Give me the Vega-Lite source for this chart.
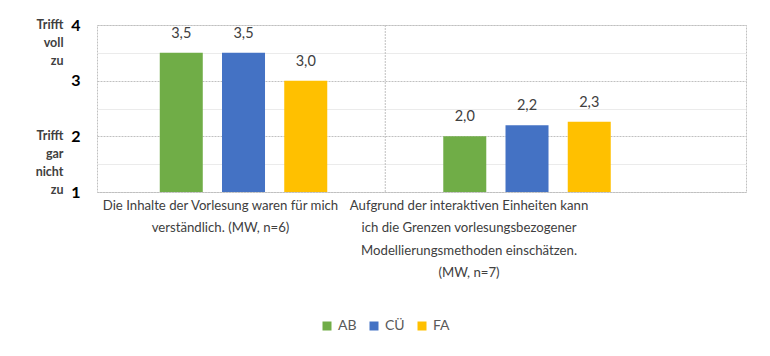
{
  "$schema": "https://vega.github.io/schema/vega-lite/v6.json",
  "width": 649,
  "height": 167,
  "padding": {"left": 35, "top": 17, "right": 5, "bottom": 5},
  "background": "white",
  "config": {
    "view": {"stroke": "#c0c0c0", "strokeDash": [2, 1]},
    "locale": {"number": {"decimal": ",", "thousands": ".", "grouping": [3], "currency": ["", " €"]}},
    "font": "Lato"
  },
  "data": {
    "values": [
      {"frage": "Die Inhalte der Vorlesung waren für mich verständlich. (MW, n=6)", "gruppe": "AB", "mw": 3.5},
      {"frage": "Die Inhalte der Vorlesung waren für mich verständlich. (MW, n=6)", "gruppe": "CÜ", "mw": 3.5},
      {"frage": "Die Inhalte der Vorlesung waren für mich verständlich. (MW, n=6)", "gruppe": "FA", "mw": 3.0},
      {"frage": "Aufgrund der interaktiven Einheiten kann ich die Grenzen vorlesungsbezogener Modellierungsmethoden einschätzen. (MW, n=7)", "gruppe": "AB", "mw": 2.0},
      {"frage": "Aufgrund der interaktiven Einheiten kann ich die Grenzen vorlesungsbezogener Modellierungsmethoden einschätzen. (MW, n=7)", "gruppe": "CÜ", "mw": 2.2},
      {"frage": "Aufgrund der interaktiven Einheiten kann ich die Grenzen vorlesungsbezogener Modellierungsmethoden einschätzen. (MW, n=7)", "gruppe": "FA", "mw": 2.26}
    ]
  },
  "encoding": {
    "x": {
      "field": "frage",
      "type": "nominal",
      "sort": null,
      "scale": {"paddingInner": 0, "paddingOuter": 0.1446, "align": 0.058},
      "axis": {
        "title": null,
        "domain": false,
        "ticks": false,
        "grid": false,
        "labelAngle": 0,
        "labelLimit": 500,
        "labelFont": "Lato",
        "labelFontSize": 13.2,
        "labelColor": "#404040",
        "labelLineHeight": 22.5,
        "labelPadding": 7,
        "labelOffset": {"condition": {"test": "indexof(datum.value,'Die') == 0", "value": -23}, "value": -58},
        "labelExpr": "indexof(datum.value,'Die') == 0 ? ['Die Inhalte der Vorlesung waren für mich','verständlich. (MW, n=6)'] : ['Aufgrund der interaktiven Einheiten kann','ich die Grenzen vorlesungsbezogener','Modellierungsmethoden einschätzen.','(MW, n=7)']"
      }
    }
  },
  "layer": [
    {
      "mark": {"type": "bar"},
      "encoding": {
        "xOffset": {"field": "gruppe", "type": "nominal", "scale": {"paddingInner": 0.309, "paddingOuter": 0.932}},
        "y": {
          "field": "mw",
          "type": "quantitative",
          "scale": {"domain": [1, 4], "zero": false, "nice": false},
          "axis": {
            "title": null,
            "values": [1, 1.5, 2, 2.5, 3, 3.5, 4],
            "labelExpr": "datum.value % 1 ? '' : '' + datum.value",
            "ticks": false,
            "domain": false,
            "labelFlush": false,
            "labelOverlap": false,
            "labelPadding": 17,
            "labelFont": "Lato",
            "labelFontSize": 16,
            "labelFontWeight": "bold",
            "labelColor": "#000000",
            "gridColor": {"condition": {"test": "datum.value % 1 == 0", "value": "#c0c0c0"}, "value": "#ebebeb"},
            "gridDash": {"condition": {"test": "datum.value % 1 == 0", "value": [2, 1]}, "value": []},
            "gridWidth": 1
          }
        },
        "y2": {"datum": 1},
        "color": {
          "field": "gruppe",
          "type": "nominal",
          "scale": {"domain": ["AB", "CÜ", "FA"], "range": ["#70AD47", "#4472C4", "#FFC000"]},
          "legend": {
            "title": null,
            "orient": "none",
            "legendX": 223,
            "legendY": 294,
            "direction": "horizontal",
            "symbolType": "square",
            "symbolSize": 81,
            "symbolStrokeWidth": 0,
            "labelFont": "Lato",
            "labelFontSize": 14,
            "labelColor": "#595959",
            "labelOffset": 4,
            "columnPadding": 10
          }
        }
      }
    },
    {
      "mark": {"type": "text", "dy": -19, "baseline": "middle", "fontSize": 14.5, "color": "#404040", "font": "Lato"},
      "encoding": {
        "xOffset": {"field": "gruppe", "type": "nominal", "scale": {"paddingInner": 0.309, "paddingOuter": 0.932}},
        "y": {
          "field": "mw",
          "type": "quantitative",
          "scale": {"domain": [1, 4], "zero": false, "nice": false},
          "axis": {
            "title": null,
            "orient": "left",
            "values": [2, 4],
            "labelExpr": "datum.value == 4 ? ['Trifft','voll','zu'] : ['Trifft','gar','nicht','zu']",
            "grid": false,
            "domain": false,
            "ticks": false,
            "labelFlush": false,
            "labelOverlap": false,
            "labelPadding": 34,
            "labelFont": "Lato",
            "labelFontSize": 12.5,
            "labelFontWeight": "bold",
            "labelColor": "#404040",
            "labelBaseline": "top",
            "labelOffset": -7,
            "labelLineHeight": 18
          }
        },
        "text": {"field": "mw", "type": "quantitative", "format": ".1f"}
      }
    },
    {
      "transform": [{"filter": "indexof(datum.frage,'Aufgrund') == 0 && datum.gruppe == 'AB'"}],
      "mark": {"type": "rule", "color": "#c0c0c0", "strokeDash": [2, 1]},
      "encoding": {
        "x": {"field": "frage", "type": "nominal", "sort": null, "bandPosition": 0}
      }
    }
  ],
  "resolve": {"axis": {"y": "independent"}}
}
